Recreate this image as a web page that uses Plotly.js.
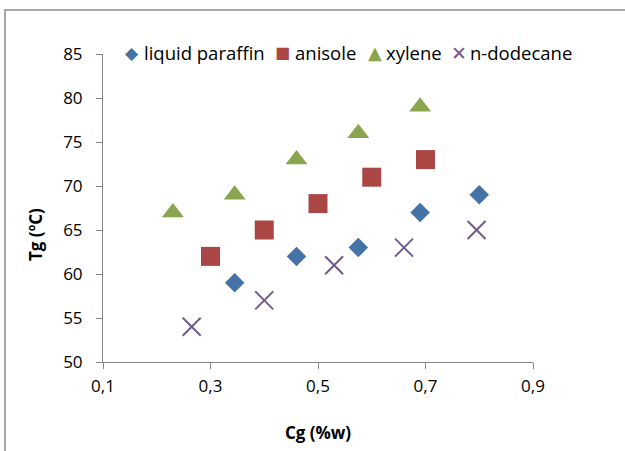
<!DOCTYPE html>
<html>
<head>
<meta charset="utf-8">
<script src="https://cdn.plot.ly/plotly-3.0.1.min.js"></script>
<style>
  html, body { margin: 0; padding: 0; background: #ffffff; }
  #wrap { position: relative; width: 625px; height: 451px; overflow: hidden; }
  #chart { position: absolute; left: 0; top: 0; width: 625px; height: 451px; }
  #frame { position: absolute; left: 4px; top: 9px; width: 640px; height: 460px;
           border-top: 2px solid #a8a8a8; border-left: 2px solid #a8a8a8;
           pointer-events: none; }
</style>
</head>
<body>
<div id="wrap">
  <div id="chart"></div>
  <div id="frame"></div>
</div>
<script>
// Glass transition temperature vs gelator concentration, per solvent
const solventNames = ['liquid paraffin', 'anisole', 'xylene', 'n-dodecane'];

const paraffinCg = [0.345, 0.46, 0.575, 0.69, 0.80];
const paraffinTg = [59, 62, 63, 67, 69];

const anisoleCg = [0.30, 0.40, 0.50, 0.60, 0.70];
const anisoleTg = [62, 65, 68, 71, 73];

const xyleneCg = [0.23, 0.345, 0.46, 0.575, 0.69];
const xyleneTg = [67, 69, 73, 76, 79];

const dodecaneCg = [0.265, 0.40, 0.53, 0.66, 0.795];
const dodecaneTg = [54, 57, 61, 63, 65];

const xTicks = [0.1, 0.3, 0.5, 0.7, 0.9];
const yTicks = [50, 55, 60, 65, 70, 75, 80, 85];

const FONT = '"Open Sans", "Noto Sans", sans-serif';
const AXIS_GREY = '#868686';
const COLORS = ['#4572a7', '#aa4643', '#89a54e', '#71588f'];

const W = 625, H = 451;
const M = { l: 103, r: 92, t: 54, b: 89 };
const plotW = W - M.l - M.r, plotH = H - M.t - M.b;
// pixel -> paper helpers for the hand-placed key row
const px = v => (v - M.l) / plotW;
const py = v => (H - M.b - v) / plotH;

const traces = [
  { name: solventNames[0], x: paraffinCg, y: paraffinTg, type: 'scatter', mode: 'markers',
    marker: { symbol: 'diamond', size: 15, color: COLORS[0] } },
  { name: solventNames[1], x: anisoleCg, y: anisoleTg, type: 'scatter', mode: 'markers',
    marker: { symbol: 'square', size: 19, color: COLORS[1] } },
  { name: solventNames[2], x: xyleneCg, y: xyleneTg, type: 'scatter', mode: 'markers',
    marker: { symbol: 'triangle-up', size: 19, color: COLORS[2] } },
  { name: solventNames[3], x: dodecaneCg, y: dodecaneTg, type: 'scatter', mode: 'markers',
    marker: { symbol: 'x-thin', size: 18, color: COLORS[3],
              line: { color: COLORS[3], width: 2 } } }
];

// key row: glyph centre and label start (px)
const keyGlyphs = ['◆', '■', '▲', '✕'];
const keyGlyphSize = [17, 16, 18, 19];
const keyGlyphX = [132, 282, 375, 459];
const keyTextX = [143, 294, 385, 469];
const keyY = 53;

const annotations = [
  { text: '<b>Tg (ºC)</b>', xref: 'paper', yref: 'paper', x: px(35), y: py(235),
    xanchor: 'center', yanchor: 'middle', textangle: -90, showarrow: false,
    font: { family: FONT, size: 17, color: '#000000' } }
];
solventNames.forEach((name, i) => {
  annotations.push({ text: keyGlyphs[i], xref: 'paper', yref: 'paper',
    x: px(keyGlyphX[i]), y: py(keyY), xanchor: 'center', yanchor: 'middle',
    showarrow: false, font: { family: 'DejaVu Sans', size: keyGlyphSize[i], color: COLORS[i] } });
  annotations.push({ text: name, xref: 'paper', yref: 'paper',
    x: px(keyTextX[i]), y: py(keyY), xanchor: 'left', yanchor: 'middle',
    showarrow: false, borderpad: 0,
    font: { family: FONT, size: 18.5, color: '#000000' } });
});

const layout = {
  width: W, height: H,
  margin: { l: M.l, r: M.r, t: M.t, b: M.b, pad: 0 },
  paper_bgcolor: 'rgba(0,0,0,0)',
  plot_bgcolor: '#ffffff',
  separators: ',.',
  font: { family: FONT, size: 17, color: '#000000' },
  showlegend: false,
  xaxis: {
    range: [0.1, 0.9], tickvals: xTicks, tickformat: '.1f',
    showgrid: false, zeroline: false,
    showline: true, linecolor: AXIS_GREY, linewidth: 1,
    ticks: 'outside', ticklen: 6, tickcolor: AXIS_GREY, tickwidth: 1,
    ticklabelstandoff: 3,
    tickfont: { family: FONT, size: 17 },
    title: { text: '<b>Cg (%w)</b>', font: { family: FONT, size: 17 }, standoff: 30 }
  },
  yaxis: {
    range: [50, 85], tickvals: yTicks,
    showgrid: false, zeroline: false,
    showline: true, linecolor: AXIS_GREY, linewidth: 1,
    ticks: 'outside', ticklen: 6, tickcolor: AXIS_GREY, tickwidth: 1,
    ticklabelstandoff: 10,
    tickfont: { family: FONT, size: 17 }
  },
  annotations: annotations
};

Plotly.newPlot('chart', traces, layout, { displayModeBar: false, staticPlot: true });
</script>
</body>
</html>
